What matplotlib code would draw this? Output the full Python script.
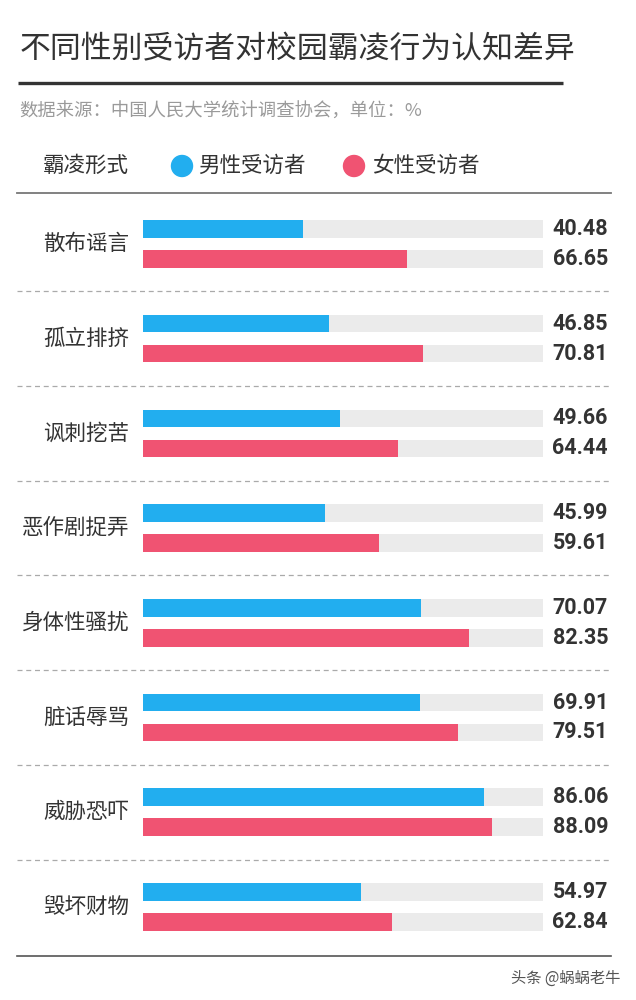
import matplotlib
matplotlib.use("Agg")
import matplotlib.pyplot as plt
from matplotlib.patches import Circle

plt.rcParams['font.family'] = ['Noto Sans CJK SC', 'DejaVu Sans']

title = "不同性别受访者对校园霸凌行为认知差异"
subtitle = "数据来源：中国人民大学统计调查协会，单位：%"
legend_head = "霸凌形式"
series_names = ["男性受访者", "女性受访者"]
categories = ["散布谣言", "孤立排挤", "讽刺挖苦", "恶作剧捉弄", "身体性骚扰", "脏话辱骂", "威胁恐吓", "毁坏财物"]
male = [40.48, 46.85, 49.66, 45.99, 70.07, 69.91, 86.06, 54.97]
female = [66.65, 70.81, 64.44, 59.61, 82.35, 79.51, 88.09, 62.84]
footer = "头条 @蜗蜗老牛"

BLUE = "#22AEEF"
PINK = "#F05372"
GREY_BG = "#EBEBEB"
DARK = "#333333"

W, H = 636, 1000
fig = plt.figure(figsize=(W / 100, H / 100), dpi=100)
fig.patch.set_facecolor("white")

# layout (pixels)
bar_left, bar_right = 143, 543
y0, step = 244, 94.7
n = len(categories)
top_px = y0 - 0.5 * step
bot_px = y0 + (n - 0.5) * step
off = 0.158
bh = 17.5 / step

# overlay axes in pixel coords
ov = fig.add_axes([0, 0, 1, 1])
ov.set_xlim(0, W)
ov.set_ylim(H, 0)
ov.axis("off")

# bar axes
bx = fig.add_axes([bar_left / W, 1 - bot_px / H, (bar_right - bar_left) / W, (bot_px - top_px) / H])
bx.set_xlim(0, 101)
bx.set_ylim(n - 0.5, -0.5)
bx.axis("off")
idx = list(range(n))
bx.barh([i - off for i in idx], [101] * n, height=bh, color=GREY_BG, zorder=1)
bx.barh([i + off for i in idx], [101] * n, height=bh, color=GREY_BG, zorder=1)
bx.barh([i - off for i in idx], male, height=bh, color=BLUE, zorder=2)
bx.barh([i + off for i in idx], female, height=bh, color=PINK, zorder=2)

# title and subtitle
ov.text(20, 50, title, fontsize=22.2, color=DARK, va="center", ha="left", fontweight="medium")
ov.plot([18, 563], [83, 83], color=DARK, lw=2.4, solid_capstyle="butt")
ov.text(19, 112, subtitle, fontsize=13.2, color="#9a9a9a", va="center", ha="left")

# legend row
ov.text(43, 166, legend_head, fontsize=15.5, color=DARK, va="center", ha="left", fontweight="medium")
ov.add_patch(Circle((182, 166), 10.5, color=BLUE))
ov.text(198, 166, series_names[0], fontsize=15.5, color=DARK, va="center", ha="left", fontweight="medium")
ov.add_patch(Circle((354, 166), 10.5, color=PINK))
ov.text(372, 166, series_names[1], fontsize=15.5, color=DARK, va="center", ha="left", fontweight="medium")
ov.plot([17, 611], [193, 193], color="#777777", lw=1.3)

# categories, values, separators
for i in range(n):
    yc = y0 + i * step
    ov.text(129, yc, categories[i], fontsize=15.5, color=DARK, va="center", ha="right", fontweight="medium")
    ov.text(608, yc - off * step, f"{male[i]:.2f}", fontsize=15.5, color=DARK, va="center", ha="right",
            fontweight="bold", family=["Roboto", "DejaVu Sans"])
    ov.text(608, yc + off * step, f"{female[i]:.2f}", fontsize=15.5, color=DARK, va="center", ha="right",
            fontweight="bold", family=["Roboto", "DejaVu Sans"])
    ysep = y0 + (i + 0.5) * step
    if i < n - 1:
        ov.plot([17, 611], [ysep, ysep], color="#aaaaaa", lw=0.9, ls=(0, (4, 3)))
    else:
        ov.plot([17, 611], [ysep + 2, ysep + 2], color="#555555", lw=1.2)

ov.text(620, 978, footer, fontsize=11, color="#555555", va="center", ha="right")

fig.savefig("out.png", dpi=100, facecolor="white")
